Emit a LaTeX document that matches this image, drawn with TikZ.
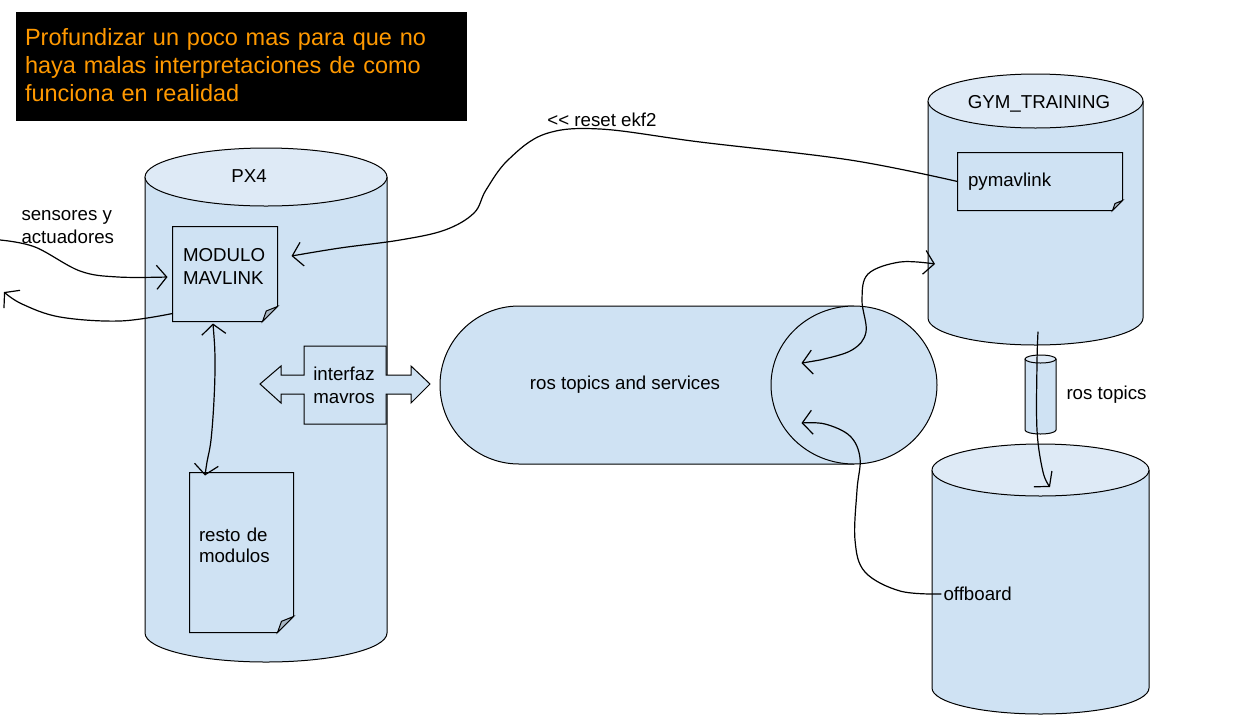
\documentclass[tikz,border=0pt]{standalone}
\usepackage{fontspec}
\setmainfont{Liberation Sans}
\usetikzlibrary{arrows.meta, shapes.geometric}
\definecolor{drumbody}{HTML}{CFE2F3}
\definecolor{drumtop}{HTML}{DEEAF6}
\definecolor{foldgray}{HTML}{A9B7C4}
\definecolor{warnorange}{HTML}{FF9900}
\def\labelsize{\fontsize{18.7}{23}\selectfont}
% name, left x, right x, top y, bottom y, end radius (pixels, y downwards)
\newcommand{\drum}[6]{%
    \fill[drumbody] (#2,-#4) -- (#2,-#5) arc[start angle=180, end angle=360, x radius={(#3-#2)/2}, y radius=#6] -- (#3,-#4) -- cycle;
    \draw (#2,-#4) -- (#2,-#5) arc[start angle=180, end angle=360, x radius={(#3-#2)/2}, y radius=#6] -- (#3,-#4);
    \filldraw[fill=drumtop] ({(#2+#3)/2},-#4) ellipse [x radius={(#3-#2)/2}, y radius=#6];
    \node[inner sep=0pt, outer sep=0pt, minimum width={(#3-#2)*1pt}, minimum height={(#5-#4+2*#6)*1pt}] (#1) at ({(#2+#3)/2},{-(#4+#5)/2}) {};
}
% border and dog-ear of a note node
\newcommand{\pagefold}[2]{%
    \draw (#1.north west) -- (#1.north east) -- ([yshift=#2]#1.south east) -- ([xshift=-#2]#1.south east) -- (#1.south west) -- cycle;
    \filldraw[fill=foldgray] ([yshift=#2]#1.south east) -- ([xshift=-#2]#1.south east) -- ([xshift=-0.75*#2, yshift=0.7*#2]#1.south east) -- cycle;
}
\tikzset{
    notebox/.style = {
        fill=drumbody, inner sep=0pt, align=left
    },
}

\begin{document}
\begin{tikzpicture}[x=1pt, y=1pt, line width=1pt, every node/.style={font=\labelsize}]
    \useasboundingbox (0,0) rectangle (1234,-721);

    % Warning box
    \node (warn) [fill=black, text=warnorange, minimum width=451pt, minimum height=109pt, text width=433pt, align=left,
        text height=18pt, text depth=61pt, font=\fontsize{23.5}{28}\selectfont] at (241.5,-66.5)
        {Profundizar un poco mas para que no\\haya malas interpretaciones de como\\funciona en realidad};

    % PX4
    \drum{px4}{145}{387}{177}{633}{29}
    \node (px4lbl) at (249,-176) {PX4};
    \node (mav) [notebox, minimum width=104pt, minimum height=94pt, text width=84pt, text height=14pt, text depth=39pt] at (225,-274) {MODULO\\MAVLINK};
    \pagefold{mav}{15pt}
    \node (resto) [notebox, minimum width=103pt, minimum height=159pt, text width=85pt, text height=14pt, text depth=36pt,
        font=\fontsize{18.7}{21}\selectfont] at (241.5,-552.5) {resto de\\modulos};
    \pagefold{resto}{16pt}

    % mavros interface
    \filldraw[fill=drumbody] (260,-384) -- (281,-366) -- (281,-375) -- (304,-375) -- (304,-346) -- (386,-346) -- (386,-375) -- (411,-375) -- (411,-366) -- (430,-384)
        -- (411,-403) -- (411,-394) -- (386,-394) -- (386,-424) -- (304,-424) -- (304,-394) -- (281,-394) -- (281,-403) -- cycle;
    \node (mavros) [align=left] at (344,-385) {interfaz\\mavros};

    % ROS pipe
    \filldraw[fill=drumbody] (854,-306) -- (519,-306) arc[start angle=90, end angle=270, radius=79] -- (854,-464);
    \node (rosend) [ellipse, draw, fill=drumbody, inner sep=0pt, minimum width=166pt, minimum height=158pt] at (854,-385) {};
    \node (ros) at (625,-385) {ros topics and services};

    % Gym side
    \drum{gym}{928}{1143}{101}{318}{27}
    \node (gymlbl) at (1039,-104) {GYM\_TRAINING};
    \node (pym) [notebox, minimum width=164pt, minimum height=57pt, text width=144pt] at (1040,-181.5) {pymavlink};
    \pagefold{pym}{10pt}
    \drum{link}{1025}{1056}{359}{430}{4}
    \node (linklbl) [anchor=west, inner sep=0pt] at (1066,-395) {ros topics};
    \drum{base}{932}{1149}{470}{688}{26}
    \node (offboard) [anchor=west, inner sep=2pt] at (941,-594) {offboard};

    \node (sens) [anchor=west, align=left, inner sep=0pt] at (21,-227) {sensores y\\actuadores};
    \node (ekf) at (602,-120) {\mbox{<}\mbox{<} reset ekf2};

    % Connections
    \coordinate (sensin) at (0,-240);
    \coordinate (sensout) at (4,-292);
    \coordinate (mavin) at ([shift={(-5pt,-3pt)}]mav.west);
    \coordinate (mavout) at ([yshift=8pt]mav.south west);
    \coordinate (ekfend) at ([shift={(14pt,18pt)}]mav.east);
    \coordinate (mavbot) at ([shift={(-12pt,-2pt)}]mav.south);
    \coordinate (restotop) at ([shift={(-36.5pt,-3pt)}]resto.north);
    \coordinate (gymin) at ([shift={(7pt,-54.5pt)}]gym.west);
    \coordinate (rosin) at ([shift={(31pt,22pt)}]rosend.west);
    \coordinate (rosin2) at ([shift={(31pt,-38pt)}]rosend.west);
    \coordinate (gymout) at ([shift={(2.5pt,13pt)}]gym.south);
    \coordinate (basein) at ([shift={(9.5pt,-43pt)}]base.north);
    \begin{scope}[line width=1.2pt, line cap=round, >={Straight Barb[length=10pt,width=24pt]}]
        \draw[->] plot[smooth, tension=.6] coordinates {(sensin) (35,-247) (80,-271) (118,-277) (mavin)};
        \draw[->] plot[smooth, tension=.6] coordinates {(mavout) (120,-321) (60,-317) (22,-304) (sensout)};
        \draw[->] plot[smooth, tension=.6] coordinates {(pym.west) (850,-160) (700,-142) (600,-129) (545,-134) (508,-160) (486,-190) (474,-213) (445,-230) (400,-240) (340,-248) (ekfend)};
        \draw[<->] plot[smooth, tension=.6] coordinates {(mavbot) (215,-360) (214,-400) (211,-440) (207,-462) (restotop)};
        \draw[<->] plot[smooth, tension=.6] coordinates {(rosin) (820,-360) (852,-350) (866,-332) (862,-300) (868,-274) (900,-262) (gymin)};
        \draw[->] plot[smooth, tension=.6] coordinates {(offboard.west) (900,-591) (865,-572) (855,-540) (857,-490) (860,-458) (850,-436) (825,-424) (rosin2)};
        \draw[->] plot[smooth, tension=.6] coordinates {(gymout) (1037,-363) (1037,-430) (1043,-472) (basein)};
    \end{scope}
\end{tikzpicture}
\end{document}
